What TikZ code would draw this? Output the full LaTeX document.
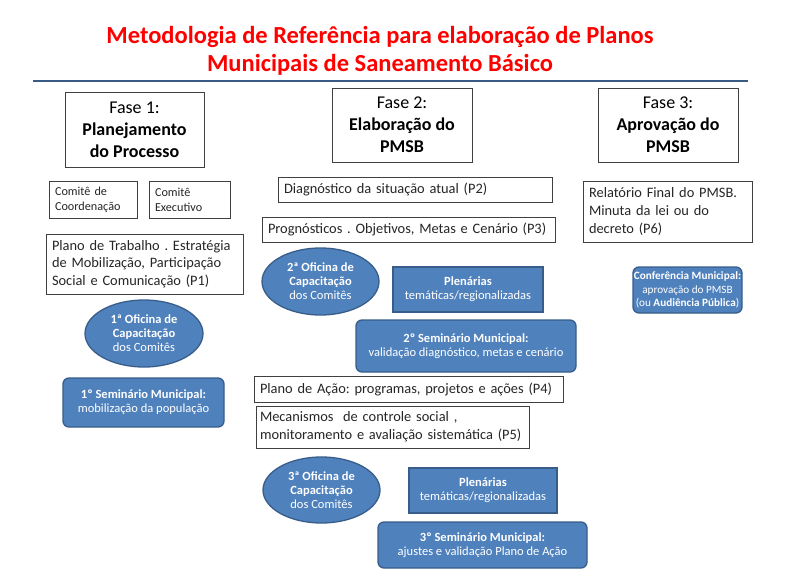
\documentclass[tikz,border=0pt]{standalone}
\usepackage{fontspec}
\setmainfont{Carlito}
\usetikzlibrary{shapes.geometric}
\definecolor{blueF}{HTML}{4F81BD}
\definecolor{blueD}{HTML}{385D8A}
\definecolor{ruleC}{HTML}{3A5A86}
\definecolor{titleR}{HTML}{FF0000}
\frenchspacing
\begin{document}
\begin{tikzpicture}[x=1pt,y=-1pt,
  wbox/.style={draw=black!75, fill=white, line width=0.8pt, inner sep=0pt, inner xsep=6pt, align=left, text=black!85},
  fbox/.style={draw=black!75, fill=white, line width=0.8pt, inner sep=0pt, align=center, text=black,
     font=\fontsize{18}{22}\selectfont},
  bbox/.style={draw=blueD, fill=blueF, line width=1.3pt, inner sep=0pt, align=center, text=white,
     font=\fontsize{12.5}{14}\selectfont},
  rbox/.style={bbox, rounded corners=6pt},
  ell/.style={bbox, ellipse},
  sz/.style 2 args={minimum width=#1pt, minimum height=#2pt},
  txt/.style={font=\fontsize{14.4}{17.6}\selectfont},
  small/.style={font=\fontsize{12.2}{15}\selectfont}
]
\useasboundingbox (0,0) rectangle (790,586);
% title
\node[text=titleR, font=\bfseries\fontsize{24.5}{27.5}\selectfont, align=center] (title) at (380,51)
  {Metodologia de Referência para elaboração de Planos\\Municipais de Saneamento Básico};
\coordinate (rl) at (33,81);
\coordinate (rr) at (748,81);
\draw[ruleC, line width=2pt] (rl) -- (rr);
% phase headers
\node[fbox, sz={139}{75}] (f1) at (134.5,129.5) {Fase 1:\\\textbf{Planejamento}\\\textbf{do Processo}};
\node[fbox, sz={140}{74}] (f2) at (402,125) {Fase 2:\\\textbf{Elaboração do}\\\textbf{PMSB}};
\node[fbox, sz={140}{74}] (f3) at (668,125) {Fase 3:\\\textbf{Aprovação do}\\\textbf{PMSB}};
% phase 1
\node[wbox, small, sz={88}{37}, text width=76pt] (cc) at (93,199.5) {Comitê de\\Coordenação};
\node[wbox, small, sz={81}{37}, text width=69pt] (ce) at (189.5,199.5) {Comitê\\Executivo};
\node[wbox, txt, sz={197}{60}, text width=185pt] (pt) at (144.5,264) {Plano de Trabalho . Estratégia\\de Mobilização, Participação\\Social e Comunicação (P1)};
\node[ell, sz={118}{67}] (o1) at (144,333.5) {\textbf{1ª Oficina de}\\\textbf{Capacitação}\\dos Comitês};
\node[rbox, sz={161}{49}] (s1) at (143.5,402.5) {\textbf{1º Seminário Municipal:}\\mobilização da população};
% phase 2
\node[wbox, txt, sz={274}{25}, text width=262pt] (diag) at (415,189.5) {Diagnóstico da situação atual (P2)};
\node[wbox, txt, sz={293}{25}, text width=281pt] (prog) at (408.5,229.5) {Prognósticos . Objetivos, Metas e Cenário (P3)};
\node[ell, sz={117}{67}] (o2) at (320.5,281.5) {\textbf{2ª Oficina de}\\\textbf{Capacitação}\\dos Comitês};
\node[bbox, sz={150}{45}] (pl2) at (468,289.5) {\textbf{Plenárias}\\temáticas/regionalizadas};
\node[rbox, sz={220}{52}] (s2) at (466,346) {\textbf{2º Seminário Municipal:}\\validação diagnóstico, metas e cenário};
\node[wbox, txt, sz={309}{26}, text width=297pt] (pa) at (408.5,389) {Plano de Ação: programas, projetos e ações (P4)};
\node[wbox, txt, sz={273}{42}, inner xsep=4pt, text width=265pt] (mec) at (392.5,427) {Mecanismos~ de controle social ,\\monitoramento e avaliação sistemática (P5)};
\node[ell, sz={117}{66}] (o3) at (321.5,490) {\textbf{3ª Oficina de}\\\textbf{Capacitação}\\dos Comitês};
\node[bbox, sz={148}{45}] (pl3) at (483,490.5) {\textbf{Plenárias}\\temáticas/regionalizadas};
\node[rbox, sz={209}{46}] (s3) at (482.5,545) {\textbf{3º Seminário Municipal:}\\ajustes e validação Plano de Ação};
% phase 3
\node[wbox, txt, sz={169}{61}, text width=157pt] (rel) at (667.5,211.5) {Relatório Final do PMSB.\\Minuta da lei ou do\\decreto (P6)};
\node[rbox, sz={109}{46}, font=\fontsize{11.2}{13.5}\selectfont] (conf) at (687.5,290) {\textbf{Conferência Municipal:}\\aprovação do PMSB\\(ou \textbf{Audiência Pública})};
\end{tikzpicture}
\end{document}
